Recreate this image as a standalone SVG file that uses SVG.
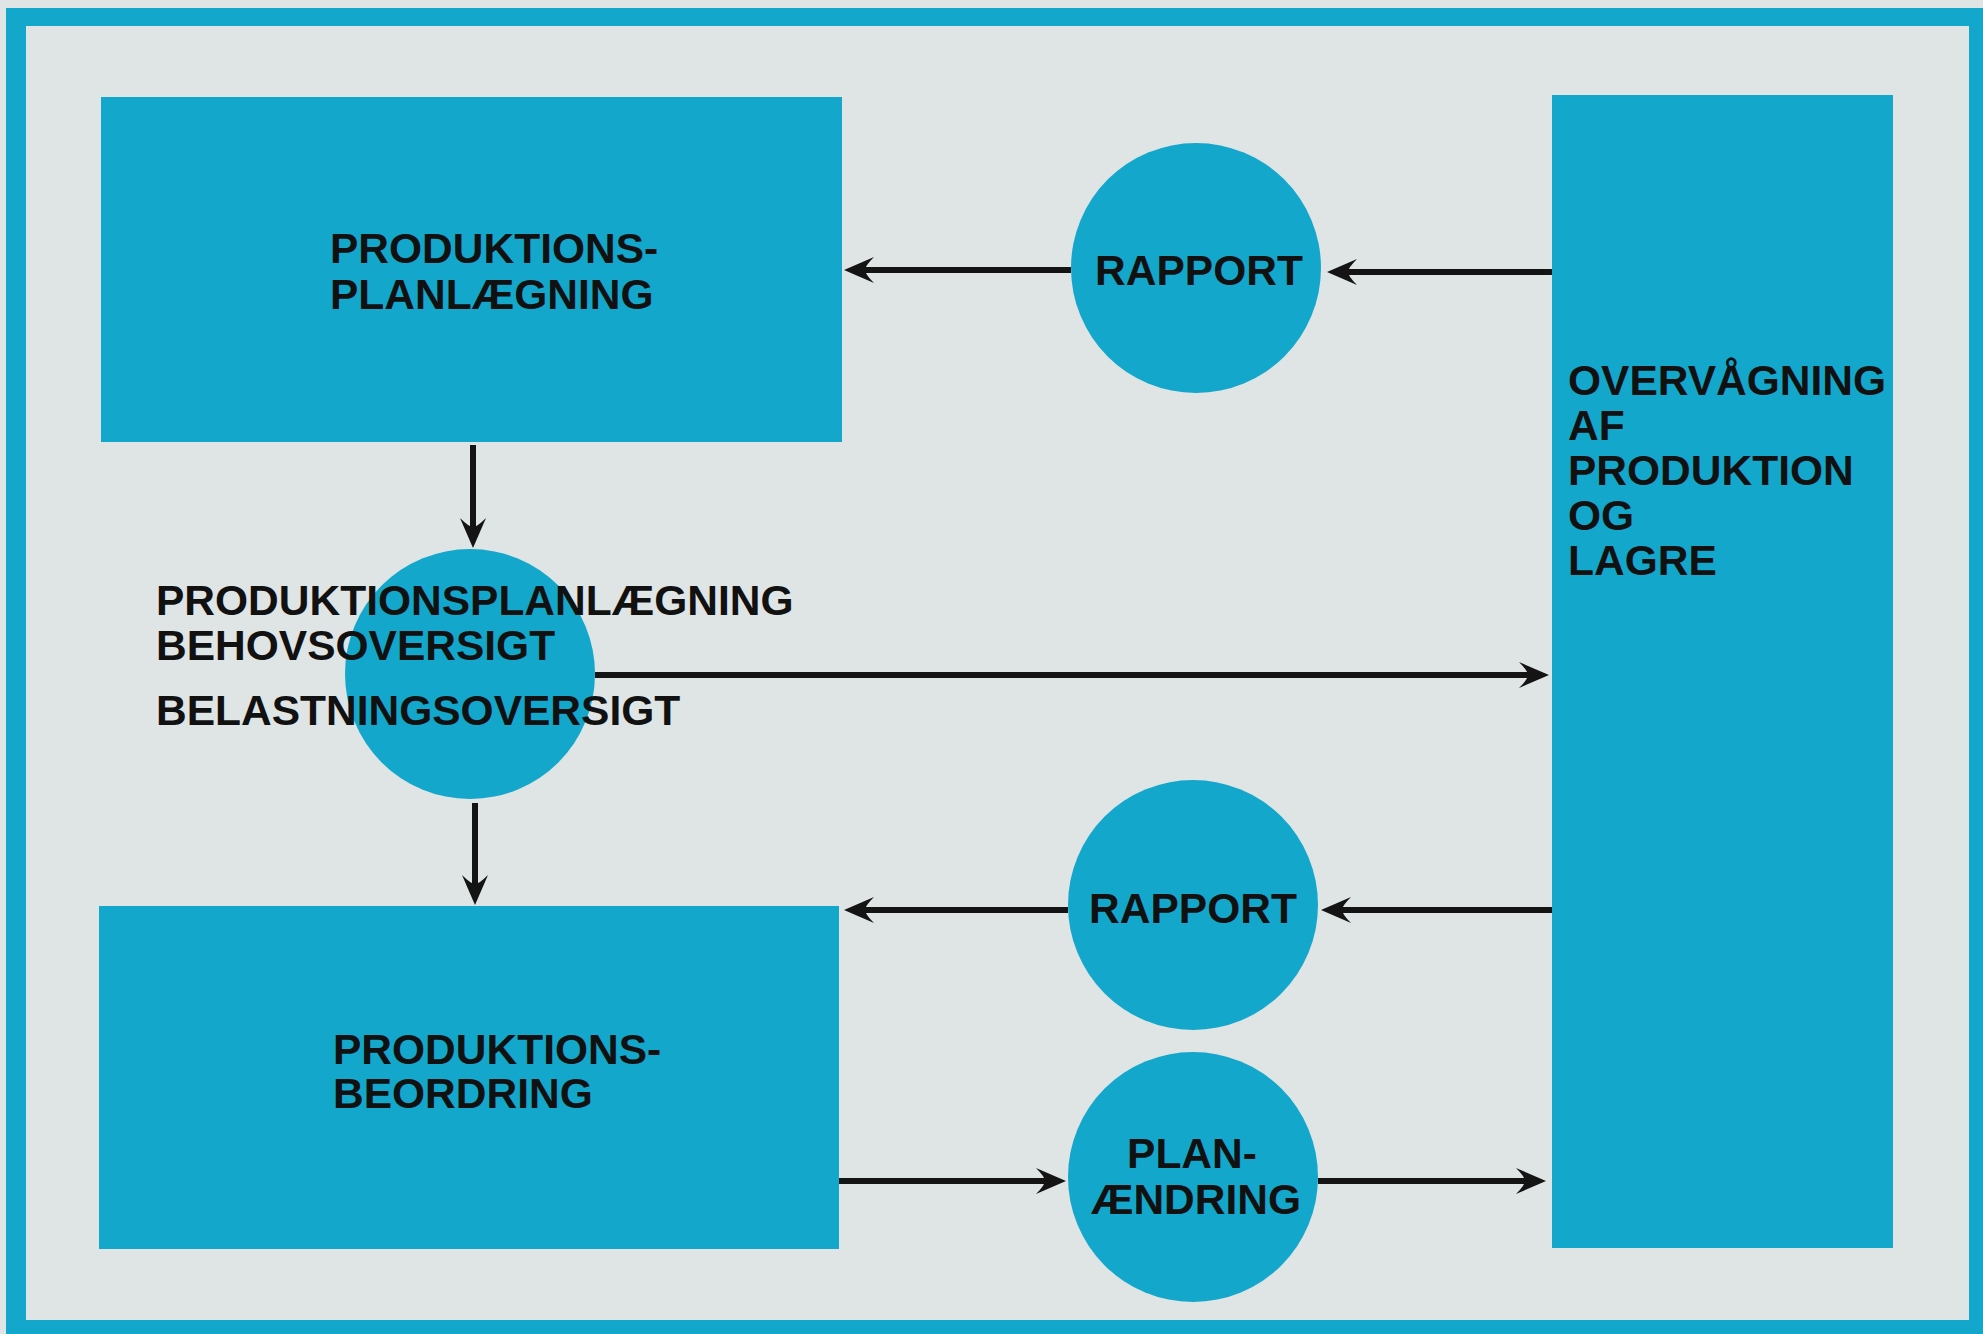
<svg xmlns="http://www.w3.org/2000/svg" width="1983" height="1334" viewBox="0 0 1983 1334">
<style>
.bg{fill:#dfe4e5}
.teal{fill:#14a7cc}
.lbl{font-family:"Liberation Sans",Arial,sans-serif;font-weight:bold;font-size:42.5px;fill:#111}
.mid{text-anchor:middle}
.con{stroke:#141414;stroke-width:6;fill:none;marker-end:url(#ah)}
</style>
<defs>
<marker id="ah" viewBox="-32 -15 34 30" refX="-20" refY="0" markerWidth="34" markerHeight="30" markerUnits="userSpaceOnUse" orient="auto">
<path d="M0,0 L-30,-13 Q-21,-4 -21,0 Q-21,4 -30,13 Z" fill="#141414"/>
</marker>
</defs>
<rect class="bg" x="0" y="0" width="1983" height="1334"/>
<rect class="teal" x="6" y="8" width="1977" height="1326"/>
<rect class="bg" x="26" y="26" width="1943" height="1294"/>

<g id="box-planlaegning">
<rect class="teal" x="101" y="97" width="741" height="345"/>
<text class="lbl" x="330" y="263">PRODUKTIONS-</text>
<text class="lbl" x="330" y="309">PLANLÆGNING</text>
</g>

<g id="box-overvaagning">
<rect class="teal" x="1552" y="95" width="341" height="1153"/>
<text class="lbl" x="1568" y="395">OVERVÅGNING</text>
<text class="lbl" x="1568" y="440">AF</text>
<text class="lbl" x="1568" y="485">PRODUKTION</text>
<text class="lbl" x="1568" y="530">OG</text>
<text class="lbl" x="1568" y="575">LAGRE</text>
</g>

<g id="box-beordring">
<rect class="teal" x="99" y="906" width="740" height="343"/>
<text class="lbl" x="333" y="1064">PRODUKTIONS-</text>
<text class="lbl" x="333" y="1108">BEORDRING</text>
</g>

<g id="circle-rapport1">
<circle class="teal" cx="1196" cy="268" r="125"/>
<text class="lbl mid" x="1199" y="285">RAPPORT</text>
</g>

<g id="circle-rapport2">
<circle class="teal" cx="1193" cy="905" r="125"/>
<text class="lbl mid" x="1193" y="923">RAPPORT</text>
</g>

<g id="circle-planaendring">
<circle class="teal" cx="1193" cy="1177" r="125"/>
<text class="lbl mid" x="1192" y="1168">PLAN-</text>
<text class="lbl mid" x="1196" y="1214">ÆNDRING</text>
</g>

<g id="circle-oversigt">
<circle class="teal" cx="470" cy="674" r="125"/>
<text class="lbl" x="156" y="615">PRODUKTIONSPLANLÆGNING</text>
<text class="lbl" x="156" y="660">BEHOVSOVERSIGT</text>
<text class="lbl" x="156" y="725">BELASTNINGSOVERSIGT</text>
</g>

<g id="connectors">
<line class="con" x1="1552" y1="272" x2="1347" y2="272"/>
<line class="con" x1="1071" y1="270" x2="864" y2="270"/>
<line class="con" x1="473" y1="445" x2="473" y2="528"/>
<line class="con" x1="475" y1="803" x2="475" y2="885"/>
<line class="con" x1="595" y1="675" x2="1529" y2="675"/>
<line class="con" x1="1552" y1="910" x2="1341" y2="910"/>
<line class="con" x1="1068" y1="910" x2="864" y2="910"/>
<line class="con" x1="839" y1="1181" x2="1046" y2="1181"/>
<line class="con" x1="1318" y1="1181" x2="1526" y2="1181"/>
</g>
</svg>
